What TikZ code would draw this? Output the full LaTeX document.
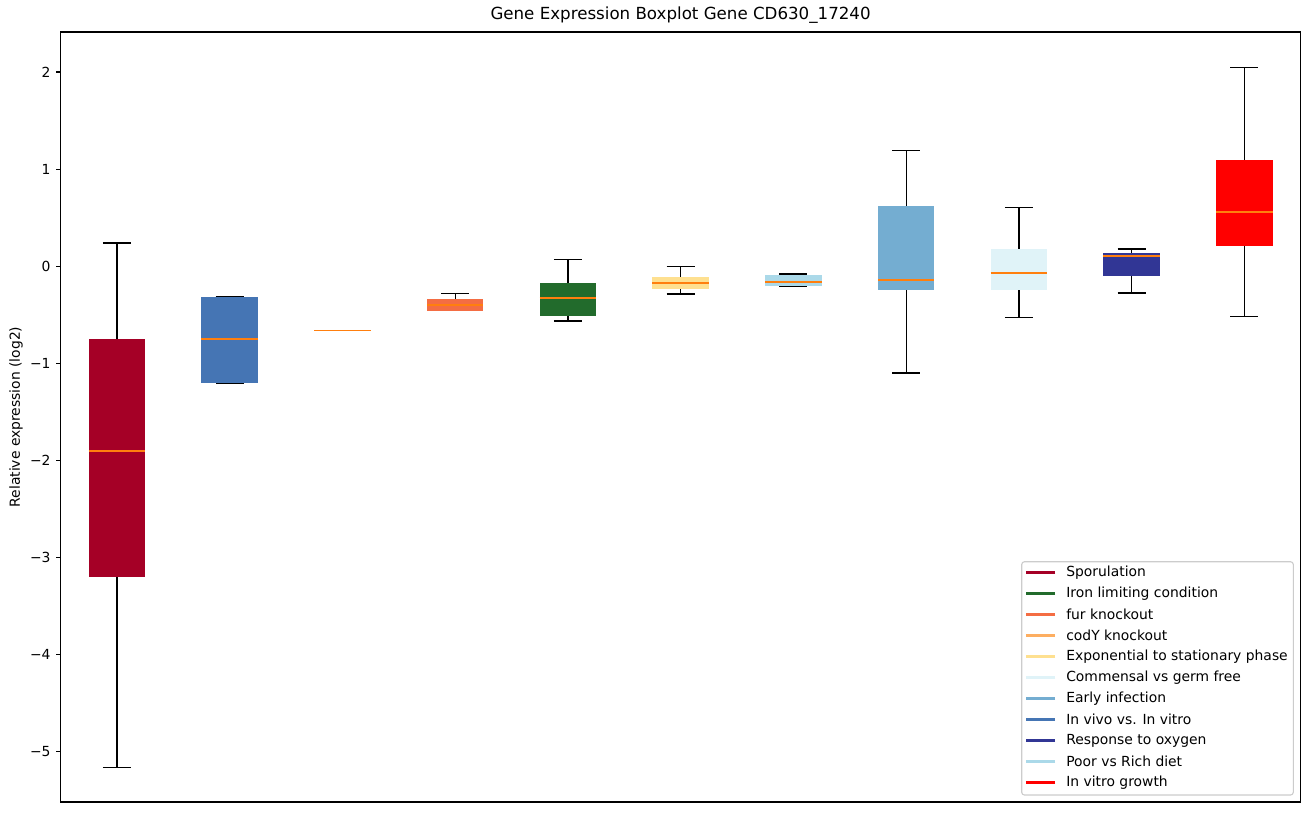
\documentclass[tikz,border=0pt]{standalone}
\usepackage{fontspec}
\setmainfont{DejaVu Sans}
\usetikzlibrary{calc}
\definecolor{sporu}{HTML}{A50026}
\definecolor{invivo}{HTML}{4575B4}
\definecolor{cody}{HTML}{FDAE61}
\definecolor{fur}{HTML}{F46D43}
\definecolor{iron}{HTML}{226B2C}
\definecolor{expo}{HTML}{FEE090}
\definecolor{poor}{HTML}{ABD9E9}
\definecolor{early}{HTML}{74ADD1}
\definecolor{comm}{HTML}{E0F3F8}
\definecolor{oxy}{HTML}{313695}
\definecolor{vitro}{HTML}{FF0000}
\definecolor{medcol}{HTML}{FF7F0E}
\tikzset{
    whisk/.style={black,line width=0.9pt},
    medline/.style={medcol,line width=1.3pt},
    ticklab/.style={anchor=east,inner sep=0pt,font=\fontsize{10}{12}\selectfont},
    legtext/.style={anchor=west,inner sep=0pt,font=\fontsize{10}{12}\selectfont},
    legframe/.style={draw=black!20,fill=white,fill opacity=0.8,rounded corners=2pt,line width=0.8pt},
  }
\begin{document}
\begin{tikzpicture}[x=0.72pt,y=-0.72pt]
				  %cadre de la page
				  \useasboundingbox (0,0) rectangle (1309,812);
				  \coordinate (NW) at (60.5,32);
				  \coordinate (SE) at (1300.7,802);

				  %titre et axe y
				  \node[inner sep=0pt,anchor=south,font=\fontsize{12}{14}\selectfont] (titre) at (680.6,24) {Gene Expression Boxplot Gene CD630\_17240};
				  \node[inner sep=0pt,rotate=90,font=\fontsize{10}{12}\selectfont] (ylab) at (16,417) {Relative expression (log2)};

				  %BOITES (donnees)
				  \begin{scope}[shift={(4.125,266.2)},x=81.18pt,y=69.91pt]
				  \foreach \i/\col/\lo/\qa/\me/\qb/\hi in {
				      1/sporu/-5.16/-3.20/-1.903/-0.747/0.239,
				      2/invivo/-1.203/-1.203/-0.753/-0.312/-0.312,
				      3/cody/-0.662/-0.662/-0.662/-0.662/-0.662,
				      4/fur/-0.46/-0.46/-0.40/-0.34/-0.279,
				      5/iron/-0.565/-0.51/-0.33/-0.17/0.07,
				      6/expo/-0.286/-0.235/-0.176/-0.11/-0.005,
				      7/poor/-0.205/-0.20/-0.163/-0.087/-0.08,
				      8/early/-1.10/-0.25/-0.142/0.62/1.19,
				      9/comm/-0.526/-0.24/-0.073/0.177/0.607,
				      10/oxy/-0.276/-0.098/0.105/0.133/0.177,
				      11/vitro/-0.516/0.211/0.555/1.097/2.05}{
				    \draw[whisk] (\i,\qb) -- (\i,\hi) (\i-0.125,\hi) -- (\i+0.125,\hi);
				    \draw[whisk] (\i,\qa) -- (\i,\lo) (\i-0.125,\lo) -- (\i+0.125,\lo);
				    \fill[\col] (\i-0.25,\qa) rectangle (\i+0.25,\qb);
				    \draw[medline] (\i-0.25,\me) -- (\i+0.25,\me);
				  }
				  %graduations
				  \foreach \v/\t in {2/2,1/1,0/0,-1/−1,-2/−2,-3/−3,-4/−4,-5/−5}{
				    \coordinate (g\v) at (0.5,\v);
				    \draw[line width=0.8pt] (g\v) -- ++(-3.5pt,0);
				    \node[ticklab] (t\v) at ($(g\v)+(-7pt,0)$) {\t};
				  }
				  \end{scope}

				  %axes
				  \draw[line width=0.8pt] (NW) rectangle (SE);

				  %LEGENDE
				  \draw[legframe] (1021.7,561.7) rectangle (1293.3,795);
				  \foreach \k/\col/\txt in {0/sporu/Sporulation,1/iron/Iron limiting condition,2/fur/fur knockout,
				      3/cody/codY knockout,4/expo/Exponential to stationary phase,5/comm/Commensal vs germ free,
				      6/early/Early infection,7/invivo/In vivo vs. In vitro,8/oxy/Response to oxygen,
				      9/poor/Poor vs Rich diet,10/vitro/In vitro growth}{
				    \node[legtext] (leg\k) at (1066,572.5+21*\k) {\txt};
				    \draw[\col,line width=1.5pt] ([xshift=-7.92pt]leg\k.west) -- ++(-29,0);
				  }
\end{tikzpicture}
\end{document}
